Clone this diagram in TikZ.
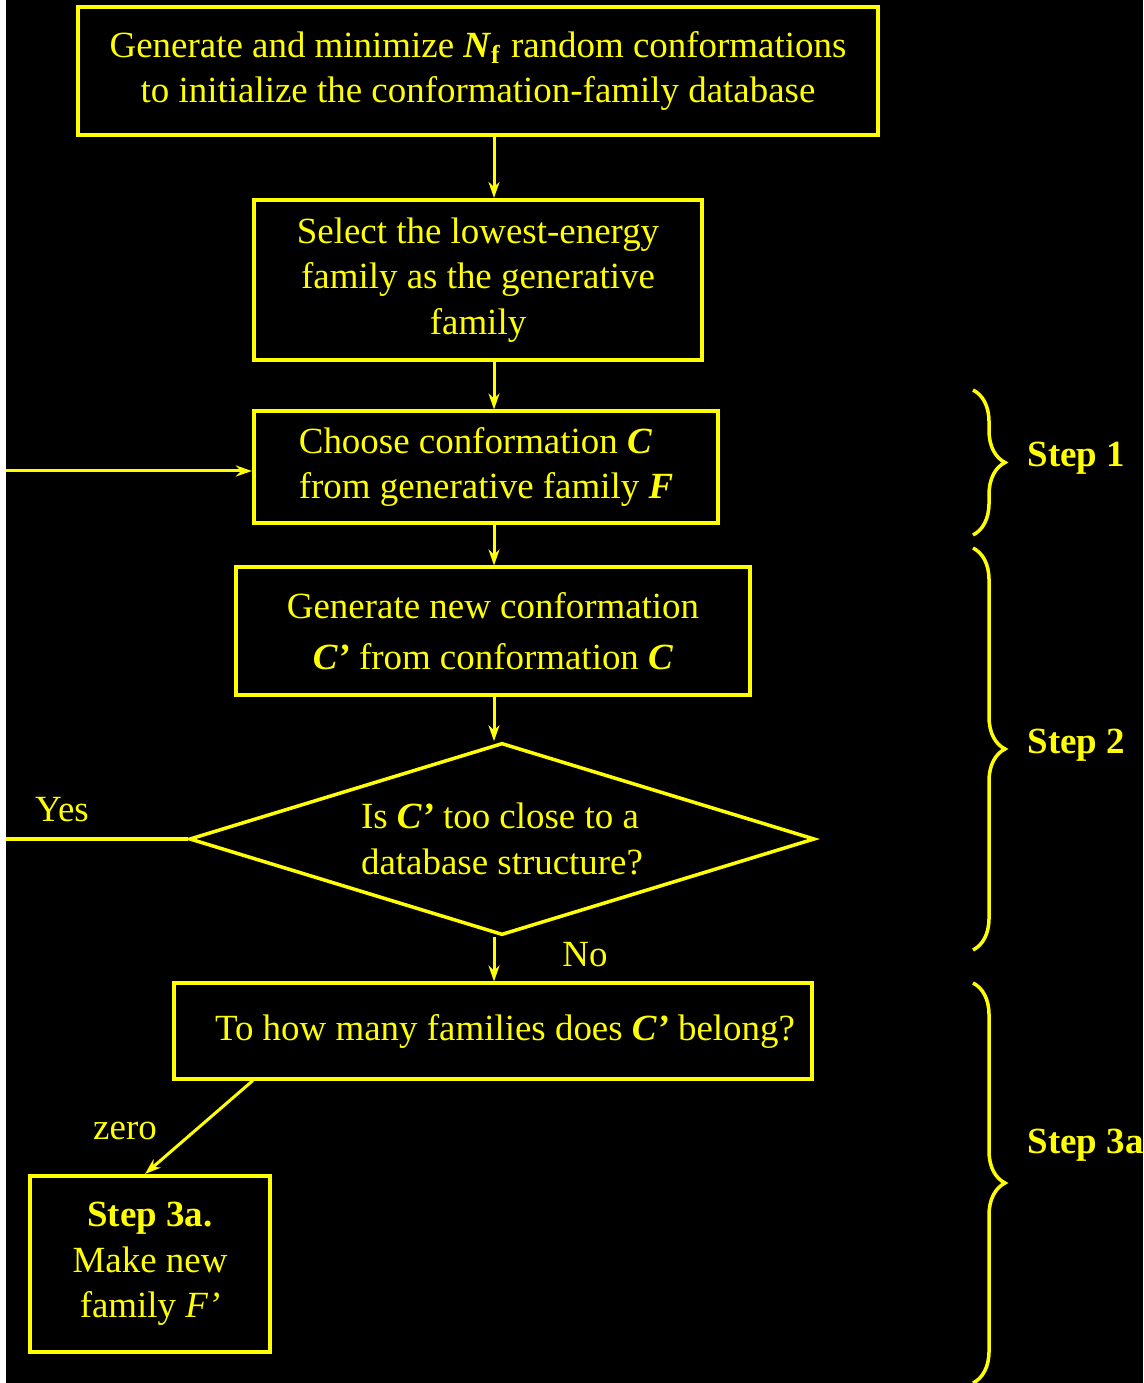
\documentclass[tikz,border=0pt]{standalone}
\usepackage{fontspec}
\setmainfont{Liberation Serif}
\usetikzlibrary{arrows.meta,shapes.geometric,decorations.pathreplacing}
\definecolor{flowYellow}{RGB}{255,255,0}
\tikzset{
  box/.style={draw=flowYellow,line width=0.04cm,align=center,inner sep=0pt},
  decision/.style={diamond,aspect=3.25,draw=flowYellow,line width=0.035cm,align=left,inner sep=0pt},
  edge/.style={draw=flowYellow,line width=0.03cm,-{Stealth[length=0.16cm,width=0.11cm]}},
  plain/.style={draw=flowYellow,line width=0.035cm},
  stepbrace/.style={draw=flowYellow,line width=0.035cm,decorate,decoration={brace,amplitude=0.32cm}}
}
\begin{document}
\begin{tikzpicture}[x=0.01cm,y=-0.01cm]
        \tikzstyle{every node}=[font=\fontsize{10.5}{12.9}\selectfont,text=flowYellow]
        \useasboundingbox (0,0) rectangle (1143,1383);
        \fill[white] (0,0) rectangle (1143,1383);
        \fill[black] (6,0) rectangle (1143,1383);
        % boxes
        \node[box,minimum width=8cm,minimum height=1.27cm] (init) at (478,71)
          {Generate and minimize \textbf{\textit{N}}\textsubscript{\textbf{f}} random conformations\\
           to initialize the conformation-family database};
        \node[box,minimum width=4.48cm,minimum height=1.6cm] (lowest) at (478,280)
          {Select the lowest-energy\\family as the generative\\family};
        \node[box,align=left,minimum width=4.64cm,minimum height=1.11cm] (choose) at (486,467)
          {Choose conformation \textbf{\textit{C}}\\from generative family \textbf{\textit{F}}};
        \node[box,minimum width=5.13cm,minimum height=1.27cm] (newconf) at (493,631)
          {Generate new conformation\\[0.05cm]\textbf{\textit{C’}} from conformation \textbf{\textit{C}}};
        \node[decision,minimum width=6.25cm,minimum height=1.92cm] (close) at (502,839)
          {Is \textbf{\textit{C’}} too close to a\\database structure?};
        \node[box,minimum width=6.38cm,minimum height=0.95cm] (howmany) at (493,1031)
          {\hspace{0.24cm}To how many families does \textbf{\textit{C’}} belong?};
        \node[box,minimum width=2.4cm,minimum height=1.76cm] (newfam) at (150,1264)
          {\textbf{Step 3a.}\\Make new\\family \textit{F’}};
        % free ends
        \coordinate (axis) at (494,0);
        \coordinate (loopin) at (6,471);
        \coordinate (yesend) at (6,839);
        % connectors
        \draw[edge] (init.south -| axis) -- (lowest.north -| axis);
        \draw[edge] (lowest.south -| axis) -- (choose.north -| axis);
        \draw[edge] (choose.south -| axis) -- (newconf.north -| axis);
        \draw[edge] (newconf.south -| axis) -- (close.north -| axis);
        \draw[edge] (close.south -| axis) -- (howmany.north -| axis);
        \draw[edge] (loopin) -- (choose.west |- loopin);
        \draw[plain] (close.west) -- (yesend);
        \draw[edge] ([xshift=0.81cm]howmany.south west) -- ([xshift=-0.05cm]newfam.north);
        % labels
        \node (yes) at (62,810) {Yes};
        \node (no) at (585,955) {No};
        \node (zero) at (125,1131) {zero};
        % braces
        \draw[stepbrace] (973,390) -- (973,535);
        \draw[stepbrace] (973,548) -- (973,950);
        \draw[stepbrace] (973,983) -- (973,1383);
        \node[anchor=west,inner sep=0pt] (step1) at (1027,458) {\textbf{Step 1}};
        \node[anchor=west,inner sep=0pt] (step2) at (1027,745) {\textbf{Step 2}};
        \node[anchor=west,inner sep=0pt] (step3) at (1027,1145) {\textbf{Step 3a}};
\end{tikzpicture}
\end{document}
